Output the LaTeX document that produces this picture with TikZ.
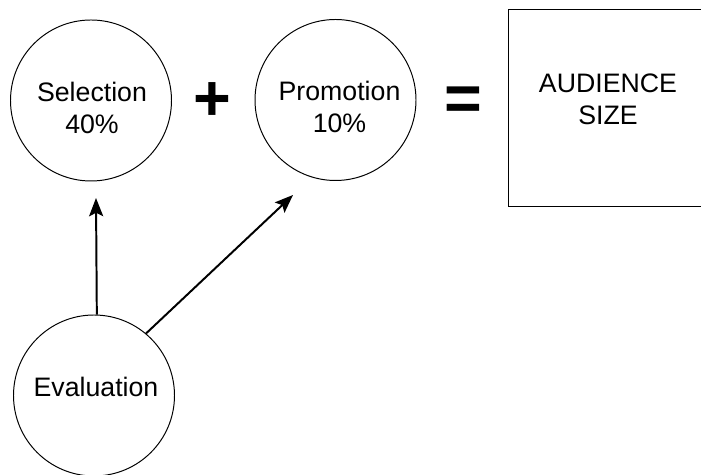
\documentclass[tikz,border=0pt]{standalone}
\usepackage{fontspec}
\setmainfont{Liberation Sans}
\usetikzlibrary{arrows.meta}
\tikzset{>={Stealth[length=13pt,width=10pt,inset=2.5pt]}}

\begin{document}
\begin{tikzpicture}[every node/.append style={font=\fontsize{19}{22.5}\selectfont}]
      \tikzstyle{cnode} = [draw=black, line width=0.7pt, circle, inner sep=0pt, minimum size=4.025cm]
      \tikzstyle{bnode} = [draw=black, line width=0.7pt, rectangle, inner sep=0pt, minimum width=5cm, minimum height=4.925cm]
      \tikzstyle{tnode} = [align=center, inner sep=0pt]
      \tikzstyle{onode} = [anchor=base, inner sep=0pt, font=\fontsize{46}{46}\selectfont\bfseries]
      \tikzstyle{arr} = [->, line width=1.4pt]

      \useasboundingbox (0,0) rectangle (17.525,11.875);

      \node[cnode] (sel) at (2.275, 9.3625) {};
      \node[cnode] (pro) at (8.3875, 9.375) {};
      \node[cnode] (eval) at (2.35, 1.9875) {};
      \node[bnode] (size) at (15.2, 9.1625) {};

      \node[tnode] (seltext) at (2.3, 9.175) {Selection\\40\%};
      \node[tnode] (protext) at (8.4875, 9.2) {Promotion\\10\%};
      \node[tnode] (evaltext) at (2.4, 2.2) {Evaluation};
      \node[tnode] (sizetext) at (15.2, 9.3875) {AUDIENCE\\SIZE};

      \node[onode] (plus) at (5.3, 8.85) {+};
      \node[onode] (equals) at (11.575, 8.85) {=};

      \coordinate (selend) at (2.4, 6.925);
      \coordinate (proend) at (7.325, 7.0);

      \draw[arr] (eval.88) to (selend);
      \draw[arr] (eval.50) to (proend);
\end{tikzpicture}
\end{document}
